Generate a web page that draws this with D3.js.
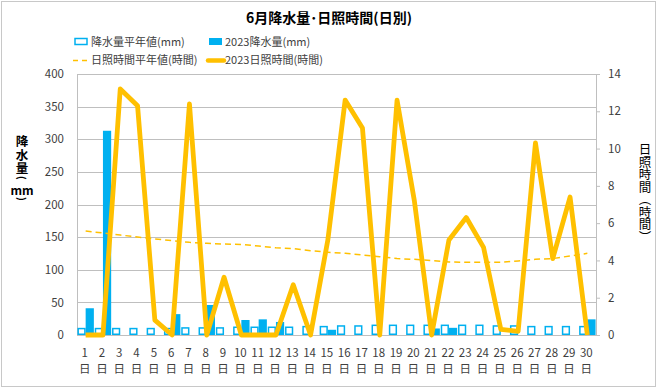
<!DOCTYPE html>
<html><head><meta charset="utf-8">
<script src="https://cdn.jsdelivr.net/npm/d3@7"></script>
<style>
html,body{margin:0;padding:0;background:#fff;}
text{font-family:"Noto Sans CJK JP","Noto Sans",sans-serif;fill:#404040;}
</style></head>
<body><svg id="c" width="660" height="389"></svg>
<script>
const days = ["1","2","3","4","5","6","7","8","9","10","11","12","13","14","15","16","17","18","19","20","21","22","23","24","25","26","27","28","29","30"];
const rainNormal = [11,11,11,11,11,11,12,12,12,13,13,13,13,14,14,15,15,16,16,16,16,16,16,16,15,15,14,14,14,14];
const rain2023 = [41,313,0,0,0,32,0,46,0,23,24,20,0,0,8,0,0,0,0,0,10,11,0,0,0,0,0,0,0,24];
const sunNormal = [5.58,5.47,5.36,5.26,5.15,5.06,4.97,4.92,4.88,4.86,4.77,4.68,4.63,4.52,4.44,4.38,4.29,4.2,4.1,4.06,3.99,3.92,3.9,3.9,3.9,3.97,4.06,4.1,4.24,4.38];
const sun2023 = [0,0,13.2,12.3,0.8,0,12.4,0,3.1,0,0,0,2.7,0,5.1,12.6,11.1,0,12.6,7.2,0,5.1,6.3,4.7,0.3,0.2,10.3,4.1,7.4,0];
const rainTicks = [0,50,100,150,200,250,300,350,400];
const sunTicks = [0,2,4,6,8,10,12,14];
const title = "6月降水量･日照時間(日別)";
const legendLabels = ["降水量平年値(mm)","2023降水量(mm)","日照時間平年値(時間)","2023日照時間(時間)"];
const leftTitleMain = "降水量";
const leftTitleUnit = "mm";
const rightTitle = "日照時間（時間）";

const blue = "#00B0F0", gold = "#FFC000";
const svg = d3.select("#c");
const L = 77, R = 596, T = 74, B = 335;

svg.append("rect").attr("x",1.5).attr("y",1.5).attr("width",654).attr("height",385)
  .attr("fill","#fff").attr("stroke","#C8C8C8").attr("stroke-width",1);

const x0 = d3.scaleBand().domain(days).range([L,R]).paddingInner(0.05).paddingOuter(0.025);
const x1 = d3.scaleBand().domain(["n","y"]).range([0,x0.bandwidth()]);
const yL = d3.scaleLinear().domain([0,400]).range([B,T]);
const yR = d3.scaleLinear().domain([0,14]).range([B,T]);
const cx = d => x0(d) + x0.bandwidth()/2;

// grid
svg.append("g").selectAll("line").data(rainTicks).join("line")
  .attr("x1",L).attr("x2",R).attr("y1",d=>Math.round(yL(d))+0.5).attr("y2",d=>Math.round(yL(d))+0.5)
  .attr("stroke","#BFBFBF").attr("stroke-width",1);

// left axis
const gL = svg.append("g").attr("transform",`translate(${L},0)`)
  .call(d3.axisLeft(yL).tickValues(rainTicks).tickSize(0).tickPadding(13));
gL.select(".domain").attr("stroke","#BFBFBF");
gL.selectAll("text").attr("font-size",11.5).attr("fill","#404040").style("font-family","'Noto Sans CJK JP'");

// right axis
const gR = svg.append("g").attr("transform",`translate(${R},0)`)
  .call(d3.axisRight(yR).tickValues(sunTicks).tickSize(4).tickPadding(8));
gR.select(".domain").attr("stroke","#BFBFBF");
gR.selectAll("line").attr("stroke","#BFBFBF");
gR.selectAll("text").attr("font-size",11.5).attr("fill","#404040").style("font-family","'Noto Sans CJK JP'");

// bars: normal (outlined)
svg.append("g").selectAll("rect").data(days).join("rect")
  .attr("x",(d,i)=>x0(d)+x1("n")+0.75)
  .attr("width",x1.bandwidth()-1.5)
  .attr("y",(d,i)=>yL(rainNormal[i])+0.75)
  .attr("height",(d,i)=>Math.max(0,B-yL(rainNormal[i])-1.5))
  .attr("fill","#fff").attr("stroke",blue).attr("stroke-width",1.5);
// bars 2023
svg.append("g").selectAll("rect").data(days).join("rect")
  .attr("x",(d,i)=>x0(d)+x1("y"))
  .attr("width",x1.bandwidth())
  .attr("y",(d,i)=>yL(rain2023[i]))
  .attr("height",(d,i)=>B-yL(rain2023[i]))
  .attr("fill",blue);

// lines
const lineN = d3.line().x((d,i)=>cx(days[i])).y(d=>yR(d));
svg.append("path").datum(sunNormal).attr("d",lineN)
  .attr("fill","none").attr("stroke",gold).attr("stroke-width",1.5).attr("stroke-dasharray","6,4");
svg.append("path").datum(sun2023).attr("d",lineN)
  .attr("fill","none").attr("stroke",gold).attr("stroke-width",4.8).attr("stroke-linejoin","round");

// x labels
const gx = svg.append("g");
gx.selectAll("text.n").data(days).join("text").attr("class","n")
  .attr("x",d=>cx(d)-1).attr("y",357).attr("text-anchor","middle").attr("font-size",11.5).text(d=>d);
gx.selectAll("text.d").data(days).join("text").attr("class","d")
  .attr("x",d=>cx(d)-1).attr("y",373).attr("text-anchor","middle").attr("font-size",11.5).text("日");

// title
svg.append("text").attr("x",329).attr("y",23).attr("text-anchor","middle")
  .attr("font-size",14).attr("font-weight","bold").style("fill","#000").text(title);

// legend
const lg = svg.append("g");
lg.append("rect").attr("x",75).attr("y",38.5).attr("width",12).attr("height",6)
  .attr("fill","#fff").attr("stroke",blue).attr("stroke-width",1.5);
lg.append("text").attr("x",91).attr("y",46).attr("font-size",11).text(legendLabels[0]);
lg.append("rect").attr("x",209).attr("y",38).attr("width",13).attr("height",7).attr("fill",blue);
lg.append("text").attr("x",225).attr("y",46).attr("font-size",11).text(legendLabels[1]);
lg.append("line").attr("x1",73).attr("x2",89).attr("y1",60.5).attr("y2",60.5)
  .attr("stroke",gold).attr("stroke-width",1.5).attr("stroke-dasharray","5,4");
lg.append("text").attr("x",91).attr("y",64).attr("font-size",11).text(legendLabels[2]);
lg.append("line").attr("x1",208).attr("x2",224).attr("y1",60.5).attr("y2",60.5)
  .attr("stroke",gold).attr("stroke-width",4.5).attr("stroke-linecap","round");
lg.append("text").attr("x",225).attr("y",64).attr("font-size",11).text(legendLabels[3]);

// left title: vertical main text, then vertical parens around horizontal "mm"
svg.append("text").attr("x",22).attr("y",135)
  .style("writing-mode","vertical-rl").attr("font-size",12.5).attr("font-weight","bold")
  .attr("letter-spacing",1).style("fill","#000").text(leftTitleMain);
svg.append("text").attr("transform","translate(22,178) rotate(90)")
  .attr("text-anchor","middle").attr("dominant-baseline","central")
  .attr("font-size",10).attr("font-weight","bold").style("fill","#000").text("(");
svg.append("text").attr("x",22).attr("y",189).attr("text-anchor","middle").attr("dominant-baseline","central")
  .attr("font-size",12).attr("font-weight","bold").style("fill","#000").text(leftTitleUnit);
svg.append("text").attr("transform","translate(22,199) rotate(90)")
  .attr("text-anchor","middle").attr("dominant-baseline","central")
  .attr("font-size",10).attr("font-weight","bold").style("fill","#000").text(")");

// right title: vertical text
svg.append("text").attr("x",645).attr("y",143)
  .style("writing-mode","vertical-rl").attr("font-size",12.5)
  .style("fill","#000").text(rightTitle);
</script></body></html>
